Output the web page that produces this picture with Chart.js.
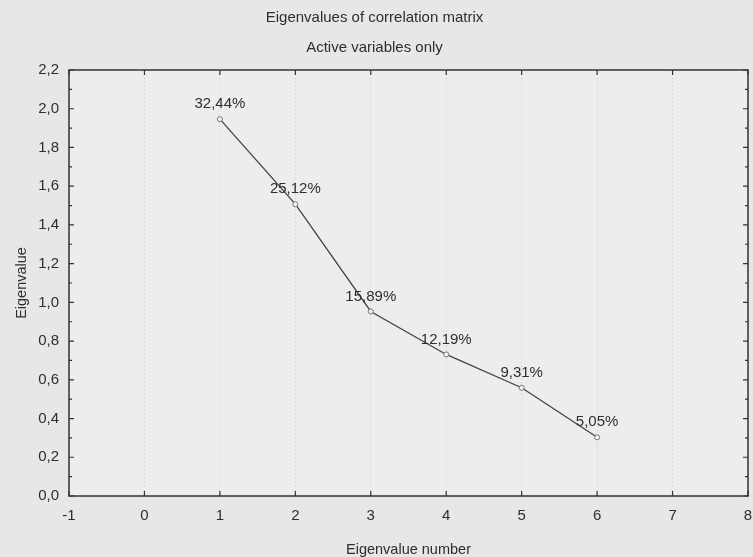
<!DOCTYPE html>
<html>
<head>
<meta charset="utf-8">
<script src="https://cdn.jsdelivr.net/npm/chart.js@4"></script>
<style>
  html, body { margin: 0; padding: 0; background: #e7e7e7; }
  canvas { display: block; }
</style>
</head>
<body>
<canvas id="screeChart" width="753" height="557"></canvas>
<script>
// eigenvalue number, eigenvalue, percent of variance
const eigenNumbers = [1, 2, 3, 4, 5, 6];
const eigenvalues = [1.946, 1.507, 0.953, 0.731, 0.559, 0.303];
const pctLabels = ['32,44%', '25,12%', '15,89%', '12,19%', '9,31%', '5,05%'];
const yTicks = [0, 0.2, 0.4, 0.6, 0.8, 1.0, 1.2, 1.4, 1.6, 1.8, 2.0, 2.2];
const xTicks = [-1, 0, 1, 2, 3, 4, 5, 6, 7, 8];

const textColor = '#2e2e2e';
const fontFamily = '"Liberation Sans", Arial, sans-serif';

// frame, inward ticks and point labels, STATISTICA-style
const framePlugin = {
    id: 'frame',
    beforeDraw(chart) {
        const a = chart.chartArea;
        const c = chart.ctx;
        c.save();
        c.fillStyle = '#ededed';
        c.fillRect(a.left, a.top, a.right - a.left, a.bottom - a.top);
        c.restore();
    },
    afterDraw(chart) {
        const a = chart.chartArea;
        const c = chart.ctx;
        const x = chart.scales.x;
        const y = chart.scales.y;
        c.save();
        c.strokeStyle = '#333';
        c.lineWidth = 1.5;
        c.strokeRect(a.left, a.top, a.right - a.left, a.bottom - a.top);
        c.lineWidth = 1.2;
        c.beginPath();
        xTicks.forEach(v => {
            const px = x.getPixelForValue(v);
            c.moveTo(px, a.bottom); c.lineTo(px, a.bottom - 5);
            c.moveTo(px, a.top); c.lineTo(px, a.top + 5);
        });
        yTicks.forEach((v, i) => {
            const py = y.getPixelForValue(v);
            c.moveTo(a.left, py); c.lineTo(a.left + 5, py);
            c.moveTo(a.right, py); c.lineTo(a.right - 5, py);
            if (i < yTicks.length - 1) {
                const pm = y.getPixelForValue((v + yTicks[i + 1]) / 2);
                c.moveTo(a.left, pm); c.lineTo(a.left + 3, pm);
                c.moveTo(a.right, pm); c.lineTo(a.right - 3, pm);
            }
        });
        c.stroke();

        const meta = chart.getDatasetMeta(0);
        c.fillStyle = textColor;
        c.font = '15px ' + fontFamily;
        c.textAlign = 'center';
        c.textBaseline = 'middle';
        meta.data.forEach((pt, i) => {
            c.fillText(pctLabels[i], pt.x, pt.y - 15);
        });
        c.restore();
    }
};

new Chart(document.getElementById('screeChart'), {
    type: 'scatter',
    data: {
        datasets: [{
            label: 'Eigenvalue',
            data: eigenNumbers.map((n, i) => ({ x: n, y: eigenvalues[i] })),
            showLine: true,
            borderColor: '#444',
            borderWidth: 1.3,
            pointRadius: 2.5,
            pointBackgroundColor: '#f4f4f4',
            pointBorderColor: '#777',
            pointBorderWidth: 1
        }]
    },
    options: {
        responsive: false,
        animation: false,
        layout: { padding: { left: 0, right: 4, top: 0, bottom: 0 } },
        plugins: {
            legend: { display: false },
            tooltip: { enabled: false },
            title: {
                display: true,
                text: 'Eigenvalues of correlation matrix',
                color: textColor,
                font: { family: fontFamily, size: 15, weight: 'normal' },
                padding: { top: 9, bottom: 12 }
            },
            subtitle: {
                display: true,
                text: 'Active variables only',
                color: textColor,
                font: { family: fontFamily, size: 15, weight: 'normal' },
                padding: { top: 0, bottom: 13 }
            }
        },
        scales: {
            x: {
                type: 'linear',
                min: -1,
                max: 8,
                afterBuildTicks: s => { s.ticks = xTicks.map(v => ({ value: v })); },
                afterFit: s => { s.height = 61; s.paddingLeft = 0; s.paddingRight = 0; },
                grid: { color: '#cacaca', drawTicks: false },
                border: { display: false, dash: [1, 3] },
                ticks: {
                    color: textColor,
                    padding: 11,
                    font: { family: fontFamily, size: 15 },
                    callback: v => String(v)
                },
                title: {
                    display: true,
                    text: 'Eigenvalue number',
                    color: textColor,
                    font: { family: fontFamily, size: 14.5 },
                    padding: { top: 0, bottom: -2 }
                }
            },
            y: {
                min: 0,
                max: 2.2,
                afterBuildTicks: s => { s.ticks = yTicks.map(v => ({ value: v })); },
                afterFit: s => { s.width = 69; },
                grid: { display: false, drawTicks: false },
                border: { display: false },
                ticks: {
                    color: textColor,
                    padding: 10,
                    font: { family: fontFamily, size: 15 },
                    callback: v => v.toFixed(1).replace('.', ',')
                },
                title: {
                    display: true,
                    text: 'Eigenvalue',
                    color: textColor,
                    font: { family: fontFamily, size: 14.5 },
                    padding: { top: 13, bottom: 0 }
                }
            }
        }
    },
    plugins: [framePlugin]
});
</script>
</body>
</html>
